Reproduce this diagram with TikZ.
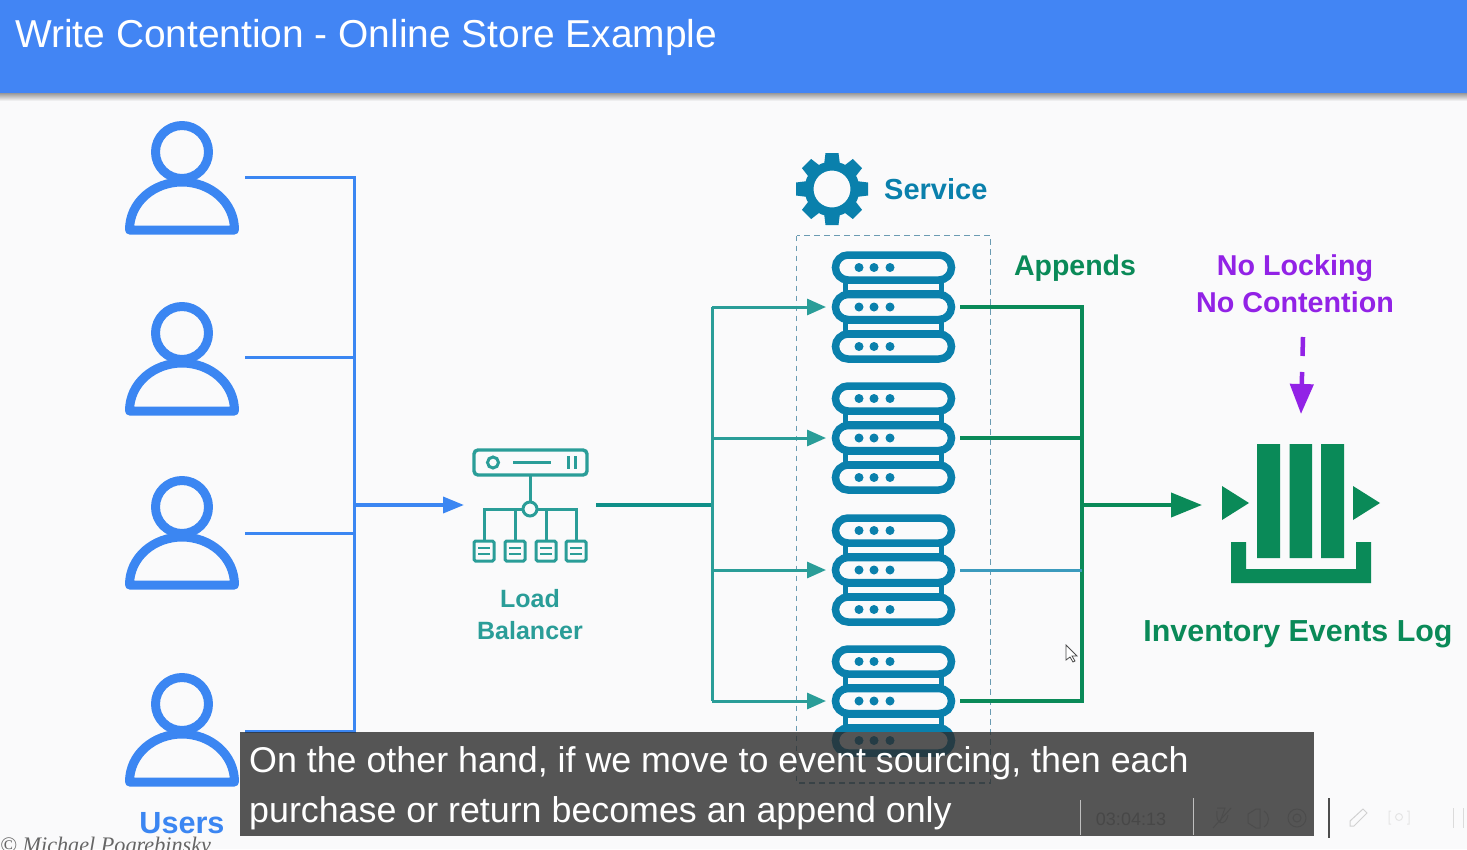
\documentclass[tikz,border=0pt]{standalone}
\usepackage{fontspec}
\setmainfont{Liberation Sans}
\newfontfamily\serifit{Liberation Serif}
\usetikzlibrary{arrows.meta,calc}
\definecolor{pagebg}{HTML}{FAFAFB}
\definecolor{headblue}{HTML}{4285F4}
\definecolor{userblue}{HTML}{3B86F2}
\definecolor{lbteal}{HTML}{2A9D98}
\definecolor{lineteal}{HTML}{0F8F88}
\definecolor{srvblue}{HTML}{0A80AC}
\definecolor{logreen}{HTML}{0A8A58}
\definecolor{purp}{HTML}{9222E6}
\definecolor{dashblue}{HTML}{6A9BB2}
\definecolor{capgray}{HTML}{2C2C2C}
\newcommand{\fs}[1]{\fontsize{#1}{#1}\selectfont}
\tikzset{
  hook/.style={inner sep=0pt,outer sep=0pt,draw=none},
  lbl/.style={inner sep=0pt,align=center},
  usericon/.pic={
    \draw[userblue,line width=9pt,line join=round] (0,-25) circle (26.5);
    \draw[userblue,line width=9pt,line join=round] (-52.5,53) .. controls (-52.5,25) and (-28,5) .. (0,5) .. controls (28,5) and (52.5,25) .. (52.5,53) -- cycle;
  },
  servericon/.pic={
    \foreach \r in {-39.5,39.5}{
      \fill[srvblue] (-50.5,\r*0.5-6) rectangle (50.5,\r*0.5+6);
      \fill[pagebg] (-45.5,\r*0.5-3) rectangle (45.5,\r*0.5+3);
    }
    \foreach \r in {-39.5,0,39.5}{
      \draw[srvblue,line width=7.5pt,fill=pagebg,rounded corners=12.5pt] (-58,\r-12.5) rectangle (58,\r+12.5);
      \foreach \d in {-34.5,-19.5,-3.5}{\fill[srvblue] (\d,\r) circle (4.5);}
    }
  },
  gearicon/.pic={
    \foreach \a in {0,45,...,315}{
      \fill[srvblue,rotate=\a] (-8,-24) -- (-6.5,-36) -- (6.5,-36) -- (8,-24) -- cycle;
    }
    \fill[srvblue,even odd rule] (0,0) circle (27.5) (0,0) circle (18.5);
  },
  smallbox/.pic={
    \draw[lbteal,line width=3pt,rounded corners=1.5pt,fill=pagebg] (-10,-10) rectangle (10,10);
    \draw[lbteal,line width=2.4pt] (-6,-3) -- (6,-3) (-6,3) -- (6,3);
  }
}
\begin{document}
\begin{tikzpicture}[x=1pt,y=-1pt]
\useasboundingbox (0,0) rectangle (1467,849);
\clip (0,0) rectangle (1467,849);
\fill[pagebg] (0,0) rectangle (1467,849);
% header
\shade[top color=black!45,bottom color=pagebg] (0,92) rectangle (1467,101);
\fill[headblue] (0,0) rectangle (1467,93);
\node[inner sep=0pt,anchor=base west,text=white,font=\fs{38.9}] (title) at (15,47) {Write Contention - Online Store Example};

% users
\foreach \n/\y in {1/177,2/358,3/532,4/729}{
  \pic at (182,\y) {usericon};
}
\node[hook,minimum width=126pt,minimum height=4pt] (u1) at (182,177) {};
\node[hook,minimum width=126pt,minimum height=4pt] (u2) at (182,357) {};
\node[hook,minimum width=126pt,minimum height=4pt] (u3) at (182,533) {};
\node[hook,minimum width=126pt,minimum height=4pt] (u4) at (182,731) {};
\coordinate (ubus) at (354,505);
\node[lbl,text=userblue,anchor=base,font=\fs{30.6}\bfseries] (users) at (182,833) {Users};
\node[inner sep=0pt,anchor=base west,text=black!60,font=\serifit\itshape\fs{22.2}] (copy) at (0,852) {© Michael Pogrebinsky};
\draw[userblue,line width=3pt,line join=miter]
  (u1.east) -- (u1.east -| ubus) -- (u4.east -| ubus) -- (u4.east)
  (u2.east) -- (u2.east -| ubus)
  (u3.east) -- (u3.east -| ubus);

% load balancer
\node[hook,minimum width=132pt,minimum height=112pt] (lb) at (530,505) {};
\draw[userblue,line width=3.6pt,-{Triangle[length=21pt,width=16pt]}] (ubus) -- (lb.west);
\draw[lbteal,line width=3.4pt,rounded corners=4pt] (474,450) rectangle (587,475);
\draw[lbteal,line width=3pt] (493,462.5) circle (5.5);
\draw[lbteal,line width=3pt] (513,462.5) -- (551,462.5);
\draw[lbteal,line width=3pt] (568.5,456) -- (568.5,469) (575,456) -- (575,469);
\draw[lbteal,line width=3pt] (530,476) -- (530,509) (484,541) -- (484,509) -- (576,509) -- (576,541) (515,509) -- (515,541) (546,509) -- (546,541);
\draw[lbteal,line width=3pt,fill=pagebg] (530,509) circle (7);
\foreach \x in {484,515,546,576}{ \pic at (\x,551) {smallbox}; }
\node[lbl,text=lbteal,anchor=base,font=\fontsize{25}{32}\selectfont\bfseries] (lbtext) at (530,639) {Load\\Balancer};

% servers
\draw[dashblue,line width=1.3pt,dash pattern=on 5.5pt off 4.5pt] (796.5,235.5) rectangle (990.5,783);
\foreach \y in {307,438,570,701}{ \pic at (893.5,\y) {servericon}; }
\node[hook,minimum width=134pt,minimum height=110pt] (s1) at (893,307) {};
\node[hook,minimum width=134pt,minimum height=110pt] (s2) at (893,438) {};
\node[hook,minimum width=134pt,minimum height=110pt] (s3) at (893,570) {};
\node[hook,minimum width=134pt,minimum height=110pt] (s4) at (893,701) {};
\pic at (832,189) {gearicon};
\node[lbl,text=srvblue,anchor=base west,font=\fs{29}\bfseries] (service) at (884,199) {Service};
\coordinate (lbbus) at (712,505);
\draw[lineteal,line width=3.6pt] (lb.east) -- (lbbus);
\draw[lbteal,line width=3pt] (s1.west -| lbbus) -- (s4.west -| lbbus);
\foreach \n in {1,2,3,4}{
  \draw[lbteal,line width=3pt,-{Triangle[length=19pt,width=16pt]}] (s\n.west -| lbbus) -- (s\n.west);
}

% appends
\coordinate (appbus) at (1082,505);
\node[lbl,text=logreen,anchor=base,font=\fs{28.5}\bfseries] (appends) at (1075,275) {Appends};
\draw[logreen,line width=3.8pt] (s1.east) -- (s1.east -| appbus) -- (s4.east -| appbus) -- (s4.east);
\draw[logreen,line width=3.4pt] (s2.east) -- (s2.east -| appbus);
\draw[srvblue!80,line width=3pt] (s3.east) -- (s3.east -| appbus);

% log
\node[hook,minimum width=190pt,minimum height=140pt] (log) at (1297,510) {};
\draw[logreen,line width=4pt,-{Triangle[length=31pt,width=24pt]}] (appbus) -- (1202,505);
\fill[logreen] (1257,444) rectangle (1280,558) (1289.5,444) rectangle (1312,558) (1321,444) rectangle (1344,558);
\fill[logreen] (1231,542) -- (1246,542) -- (1246,569) -- (1356,569) -- (1356,542) -- (1371,542) -- (1371,583) -- (1231,583) -- cycle;
\fill[logreen] (1222,486) -- (1249,503) -- (1222,520) -- cycle (1353,486) -- (1380,503) -- (1353,520) -- cycle;
\node[lbl,text=logreen,anchor=base,font=\fs{30.4}\bfseries] (logtext) at (1298,641) {Inventory Events Log};
\node[lbl,text=purp,anchor=base,font=\fontsize{28.7}{37}\selectfont\bfseries] (nolock) at (1295,312) {No Locking\\No Contention};
\coordinate (purpstart) at (1303,337);
\draw[purp,line width=4.5pt,dash pattern=on 19pt off 16pt,-{Triangle[length=30pt,width=23pt]}] (purpstart) -- (1301,414);

% caption
\fill[capgray,fill opacity=.8] (240,732) rectangle (1314,836);
\node[inner sep=0pt,anchor=base west,text=white,font=\fs{35.8}] (cap1) at (249,772) {On the other hand, if we move to event sourcing, then each};
\node[inner sep=0pt,anchor=base west,text=white,font=\fs{35.8}] (cap2) at (249,822) {purchase or return becomes an append only};

% player controls
\draw[black!25,line width=.8pt] (1080,800) -- (1080,835) (1193,798) -- (1193,835);
\draw[black!70,line width=1.3pt] (1329,798) -- (1329,838);
\node[inner sep=0pt,text=black!72,font=\fs{18}] (time) at (1131,819) {03:04:13};
\draw[black!70,line width=1pt] (1217,811) .. controls (1215,826) and (1226,826) .. (1228,815) (1213,828) -- (1231,808);
\draw[black!70,line width=1pt] (1217,808) -- (1225,808) -- (1220,822);
\draw[black!70,line width=1pt] (1248,814) -- (1248,823) -- (1256,828) -- (1260,828) -- (1260,809) -- (1256,809) -- cycle (1264,811) .. controls (1270,815) and (1270,823) .. (1264,827);
\draw[black!70,line width=1pt] (1297,818) circle (4) (1297,818) circle (9);
\draw[black!18,line width=1pt] (1350,826) -- (1350,821) -- (1363,809) -- (1367,813) -- (1354,826) -- cycle;
\draw[black!10,line width=1pt] (1391,811) -- (1389,811) -- (1389,824) -- (1391,824) (1407,811) -- (1409,811) -- (1409,824) -- (1407,824) (1399,817) circle (3.5);
\draw[black!14,line width=1pt] (1453,808) -- (1453,828) (1463,808) -- (1463,828);
% cursor
\draw[black!70,fill=white,line width=.8pt] (1066,645) -- (1066,660) -- (1070,657) -- (1073,662) -- (1075,661) -- (1072,656) -- (1077,656) -- cycle;
\end{tikzpicture}
\end{document}
